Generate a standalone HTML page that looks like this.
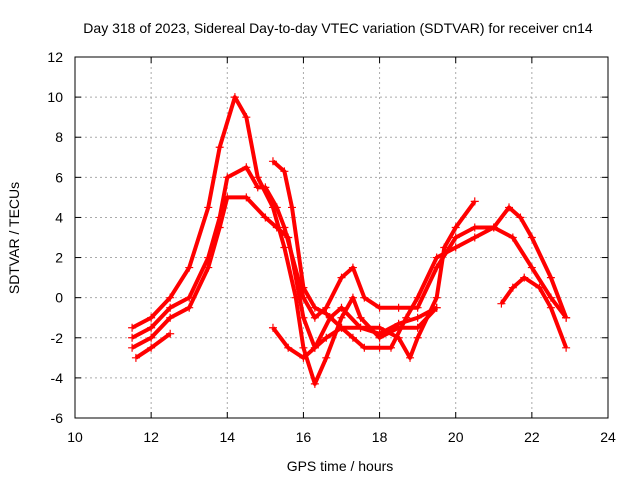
<!DOCTYPE html>
<html><head><meta charset="utf-8"><style>
body{margin:0;background:#fff;}
svg{display:block;font-family:"Liberation Sans",sans-serif;}
</style></head><body>
<svg id="chart" width="640" height="480">
<text x="338" y="33" text-anchor="middle" font-size="14">Day 318 of 2023, Sidereal Day-to-day VTEC variation (SDTVAR) for receiver cn14</text>
<text x="340" y="471" text-anchor="middle" font-size="14">GPS time / hours</text>
<text transform="translate(19,238) rotate(-90)" text-anchor="middle" font-size="14">SDTVAR / TECUs</text>
<g id="grid"></g><g id="ticks"></g><g id="marks"></g>
<rect x="75" y="57" width="533" height="361" fill="none" stroke="#000"/>
</svg>
<script>
const xTicks=[10,12,14,16,18,20,22,24];
const yTicks=[-6,-4,-2,0,2,4,6,8,10,12];
const seriesA=[[11.5,-1.5],[12,-1],[12.5,0],[13,1.5],[13.5,4.5],[13.8,7.5],[14.2,10],[14.5,9],[14.8,6],[15.2,4.5],[15.5,2.5],[15.8,0],[16,-2.5],[16.3,-4.3],[16.6,-3],[17,-1],[17.3,0],[17.5,-1],[18,-2],[18.5,-1.5],[19,-1.5],[19.5,-0.5]];
const seriesB=[[11.5,-2],[12,-1.5],[12.5,-0.5],[13,0],[13.5,2],[13.8,4],[14,6],[14.5,6.5],[14.8,5.5],[15,5.5],[15.3,4.5],[15.5,3.5],[16,0],[16.3,-1],[16.6,-0.5],[17,1],[17.3,1.5],[17.6,0],[18,-0.5],[18.5,-0.5],[19,-0.5],[19.5,1.5],[20,3],[20.5,3.5],[21,3.5],[21.5,3],[22,1.5],[22.5,0],[22.9,-1]];
const seriesC=[[11.5,-2.5],[12,-2],[12.5,-1],[13,-0.5],[13.5,1.5],[13.8,3.5],[14,5],[14.5,5],[15,4],[15.3,3.5],[15.6,3],[16,-1],[16.3,-2.5],[16.6,-2],[17,-1.5],[17.3,-2],[17.6,-2.5],[18,-2.5],[18.3,-2.5],[18.7,-1],[19,0],[19.5,2],[20,2.5],[20.5,3],[21,3.5],[21.4,4.5],[21.7,4],[22,3],[22.5,1],[22.9,-1]];
const seriesD=[[15.2,6.8],[15.5,6.3],[15.7,4.5],[16,0.5],[16.3,-0.5],[16.6,-0.8],[17,-1.5],[17.5,-1.5],[18,-1.5],[18.5,-2],[18.8,-3],[19,-2],[19.5,0],[19.7,2.5],[20,3.5],[20.5,4.8]];
const seriesE=[[11.6,-3],[12,-2.5],[12.5,-1.8]];
const seriesF=[[15.2,-1.5],[15.6,-2.5],[16,-3],[16.3,-2.5],[16.7,-1],[17,-0.5],[17.5,-1.5],[18,-1.8],[18.5,-1.3],[19,-1],[19.5,-0.5]];
const seriesG=[[21.2,-0.3],[21.5,0.5],[21.8,1],[22.2,0.5],[22.5,-0.5],[22.9,-2.5]];
const allSeries=[seriesA,seriesB,seriesC,seriesD,seriesE,seriesF,seriesG];
const L=75,R=608,T=57,B=418;
const sx=v=>L+(v-10)/(24-10)*(R-L);
const sy=v=>B-(v+6)/(12+6)*(B-T);
const NS="http://www.w3.org/2000/svg";
function mk(t,a,p){const e=document.createElementNS(NS,t);for(const k in a)e.setAttribute(k,a[k]);p.appendChild(e);return e;}
const grid=document.getElementById('grid'),ticks=document.getElementById('ticks'),marks=document.getElementById('marks');
xTicks.forEach(v=>{
 const x=sx(v);
 if(v>10&&v<24){const g=mk('line',{x1:x,x2:x,y1:T,y2:B,stroke:'#aaa','stroke-dasharray':'2,3'},grid);
 
 }
 mk('line',{x1:x,x2:x,y1:B,y2:B-6,stroke:'#000'},ticks);mk('line',{x1:x,x2:x,y1:T,y2:T+6,stroke:'#000'},ticks);
 const t=mk('text',{x:x,y:B+24,'text-anchor':'middle','font-size':14},ticks);t.textContent=v;
 
 
});
yTicks.forEach(v=>{
 const y=sy(v);
 if(v>-6&&v<12){const g=mk('line',{x1:L,x2:R,y1:y,y2:y,stroke:'#aaa','stroke-dasharray':'2,3'},grid);
 
 }
 mk('line',{x1:L,x2:L+6,y1:y,y2:y,stroke:'#000'},ticks);mk('line',{x1:R,x2:R-6,y1:y,y2:y,stroke:'#000'},ticks);
 const t=mk('text',{x:L-12,y:y+5,'text-anchor':'end','font-size':14},ticks);t.textContent=v;
 
 
});
allSeries.forEach((s,i)=>{
 const pl=mk('polyline',{points:s.map(p=>sx(p[0])+','+sy(p[1])).join(' '),fill:'none',stroke:'#f00','stroke-width':4,'stroke-linejoin':'round'},marks);
 
 
 s.forEach(p=>{
  const x=sx(p[0]),y=sy(p[1]);
  const m=mk('path',{d:`M${x-4},${y}H${x+4}M${x},${y-4}V${y+4}`,stroke:'#f00','stroke-width':1.2},marks);
  
  
 });
});
</script>
</body></html>
